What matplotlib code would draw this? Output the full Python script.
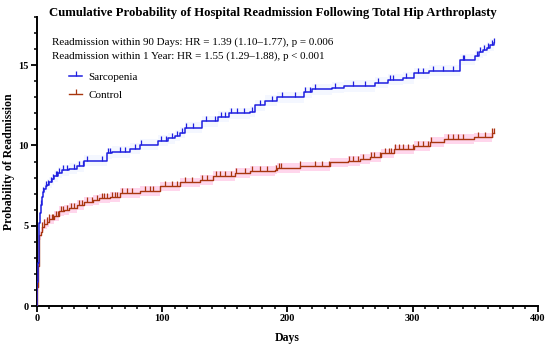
import numpy as np
import matplotlib
matplotlib.use("Agg")
import matplotlib.pyplot as plt
from matplotlib.path import Path
from matplotlib.lines import Line2D
from matplotlib.ticker import MultipleLocator

plt.rcParams['font.family'] = ['Liberation Serif', 'DejaVu Serif']

# cumulative incidence (%) steps, value after each jump
sarc_t = [0, 0.5, 1, 1.5, 2, 2.5, 3, 4, 5, 6, 7, 8, 10, 12, 14, 17, 20, 26, 32, 38, 56, 60, 74, 82,
          97, 105, 110, 114, 118, 132, 145, 153, 170, 174, 182, 192, 213, 220, 236, 245, 270, 280,
          292, 301, 313, 338, 350, 353, 356, 359, 362, 365]
sarc_p = [0, 1.5, 2.7, 4.0, 5.2, 5.8, 6.3, 6.8, 7.1, 7.3, 7.45, 7.55, 7.7, 7.9, 8.1, 8.3, 8.45, 8.55,
          8.7, 9.05, 9.5, 9.6, 9.8, 10.05, 10.3, 10.45, 10.6, 10.8, 11.1, 11.5, 11.8, 12.0, 12.1, 12.5,
          12.8, 13.0, 13.3, 13.5, 13.6, 13.7, 13.9, 14.1, 14.2, 14.5, 14.65, 15.35, 15.6, 15.8, 15.95,
          16.1, 16.25, 16.4]
ctrl_t = [0, 0.5, 1, 1.5, 2, 3, 4, 6, 8, 10, 14, 18, 22, 26, 32, 38, 45, 50, 58, 66, 82, 98, 114, 130,
          141, 158, 170, 190, 192, 210, 234, 248, 258, 266, 275, 285, 301, 314, 325, 349, 363, 365]
ctrl_p = [0, 1.2, 2.5, 3.8, 4.4, 4.6, 4.95, 5.1, 5.25, 5.4, 5.6, 5.9, 6.0, 6.1, 6.3, 6.5, 6.6, 6.7,
          6.8, 7.05, 7.15, 7.45, 7.7, 7.85, 8.1, 8.3, 8.4, 8.5, 8.6, 8.7, 8.95, 9.05, 9.17, 9.3, 9.5,
          9.75, 9.95, 10.2, 10.4, 10.5, 10.75, 10.75]

# censoring times
sarc_cens = [3, 5, 7, 9, 11, 13, 15, 16, 18, 21, 24, 30, 34, 37, 40, 52, 57, 58, 66, 70, 78, 83, 99,
             103, 108, 112, 116, 119, 125, 135, 142, 147, 150, 155, 160, 165, 172, 178, 188, 196, 206,
             214, 218, 222, 238, 252, 262, 272, 282, 284, 295, 304, 308, 316, 324, 332, 340, 341, 351,
             354, 357, 360, 363, 365]
ctrl_cens = [4, 6, 8, 10, 12, 13, 15, 17, 19, 21, 24, 27, 30, 34, 36, 40, 44, 48, 52, 54, 56, 60, 62,
             64, 68, 72, 76, 86, 90, 93, 102, 108, 112, 118, 124, 132, 136, 143, 146, 150, 155, 159,
             166, 172, 178, 184, 191, 193, 195, 210, 222, 228, 233, 249, 252, 256, 260, 267, 269, 274,
             278, 281, 283, 286, 289, 292, 296, 300, 304, 308, 312, 315, 328, 332, 336, 340, 352, 358,
             363, 365]

blue = '#1f1fe0'
red_line = '#a8360f'

tick_marker = Path([(0, 0), (0, 1)], [Path.MOVETO, Path.LINETO])


def value_at(ts, ps, x):
    idx = np.searchsorted(ts, x, side='right') - 1
    return np.asarray(ps)[idx]


fig = plt.figure(figsize=(5.5, 3.47), dpi=100)
ax = fig.add_axes([0.067, 0.118, 0.911, 0.833])

# confidence bands
ct = np.array(ctrl_t, dtype=float)
cp = np.array(ctrl_p)
ax.fill_between(ct, cp - 0.3, cp + 0.3, step='post', color='#ffd6ec', lw=0, zorder=1)
st = np.array(sarc_t, dtype=float)
sp = np.array(sarc_p)
ax.fill_between(st, sp - 0.35, sp + 0.35, step='post', color='#f4f7ff', lw=0, zorder=1)

ax.step(ctrl_t, ctrl_p, where='post', color=red_line, lw=1.0, zorder=3)
ax.step(sarc_t, sarc_p, where='post', color=blue, lw=1.1, zorder=4)

ax.plot(ctrl_cens, value_at(ctrl_t, ctrl_p, ctrl_cens), ls='none', marker=tick_marker,
        ms=7.5, mew=0.9, color=red_line, zorder=3)
ax.plot(sarc_cens, value_at(sarc_t, sarc_p, sarc_cens), ls='none', marker=tick_marker,
        ms=7.5, mew=0.9, color=blue, zorder=4)

ax.set_xlim(0, 400)
ax.set_ylim(0, 18)
ax.xaxis.set_major_locator(MultipleLocator(100))
ax.xaxis.set_minor_locator(MultipleLocator(10))
ax.yaxis.set_major_locator(MultipleLocator(5))
ax.yaxis.set_minor_locator(MultipleLocator(1))
ax.spines['top'].set_visible(False)
ax.spines['right'].set_visible(False)
for s in ('left', 'bottom'):
    ax.spines[s].set_linewidth(1.4)
ax.tick_params(which='major', length=4, width=1.3, labelsize=7.5, pad=2)
ax.tick_params(which='minor', length=2.5, width=1.1)
for lab in ax.get_xticklabels() + ax.get_yticklabels():
    lab.set_fontweight('bold')

ax.set_xlabel('Days', fontsize=8.5, fontweight='bold', labelpad=6)
ax.set_ylabel('Probability of Readmission', fontsize=8.5, fontweight='bold', labelpad=2)

fig.text(0.497, 0.962, 'Cumulative Probability of Hospital Readmission Following Total Hip Arthroplasty',
         ha='center', va='center', fontsize=9.2, fontweight='bold')

ax.text(0.03, 0.913, 'Readmission within 90 Days: HR = 1.39 (1.10\u20131.77), p = 0.006',
        transform=ax.transAxes, fontsize=7.9, va='center')
ax.text(0.03, 0.865, 'Readmission within 1 Year: HR = 1.55 (1.29\u20131.88), p < 0.001',
        transform=ax.transAxes, fontsize=7.9, va='center')

handles = [Line2D([], [], color=blue, lw=1.1, marker=tick_marker, ms=7, mew=0.9),
           Line2D([], [], color=red_line, lw=1.0, marker=tick_marker, ms=7, mew=0.9)]
ax.legend(handles, ['Sarcopenia', 'Control'], loc='upper left', bbox_to_anchor=(0.045, 0.845),
          frameon=False, fontsize=8.0, handlelength=1.1, handletextpad=0.6, labelspacing=0.75,
          numpoints=1)

fig.savefig('out.png', dpi=100)
